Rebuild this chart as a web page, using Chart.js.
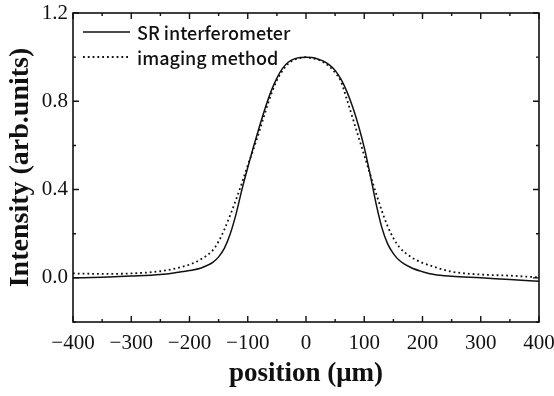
<!DOCTYPE html>
<html>
<head>
<title>Intensity profile</title>
<script src="https://cdn.jsdelivr.net/npm/chart.js"></script>
<style>
  html, body { margin: 0; padding: 0; background: #fff; }
</style>
</head>
<body>
<canvas id="profileChart" width="554" height="396"></canvas>

<script>
    // positions (um) shared by both curves
    const positions = [-400, -350, -300, -250, -220, -200, -180, -160, -150, -140, -130, -120, -110, -100,
        -90, -80, -70, -60, -50, -40, -30, -20, -10, 0, 10, 20, 30, 40, 50, 60, 70, 80, 90,
        100, 110, 120, 130, 140, 150, 160, 180, 200, 220, 250, 300, 350, 400];

    const srInterferometer = [0.0, 0.003, 0.008, 0.015, 0.025, 0.033, 0.045, 0.07, 0.095, 0.135, 0.20, 0.29, 0.40, 0.50,
        0.595, 0.685, 0.77, 0.845, 0.905, 0.95, 0.978, 0.992, 0.998, 1.0, 0.998, 0.992, 0.982, 0.965, 0.94, 0.90, 0.845, 0.775, 0.69,
        0.59, 0.47, 0.34, 0.23, 0.155, 0.11, 0.08, 0.047, 0.028, 0.015, 0.007, 0.0, -0.008, -0.015];

    const imagingMethod = [0.02, 0.018, 0.02, 0.03, 0.045, 0.06, 0.085, 0.125, 0.165, 0.22, 0.285, 0.355, 0.43, 0.51,
        0.585, 0.665, 0.75, 0.83, 0.895, 0.94, 0.972, 0.988, 0.996, 1.0, 0.995, 0.99, 0.977, 0.958, 0.93, 0.89, 0.81, 0.725, 0.64,
        0.555, 0.47, 0.385, 0.305, 0.235, 0.18, 0.14, 0.095, 0.068, 0.05, 0.028, 0.015, 0.01, 0.002];

    const xTicks = [-400, -300, -200, -100, 0, 100, 200, 300, 400];
    const xMinorTicks = [-350, -250, -150, -50, 50, 150, 250, 350];
    const yTicks = [0.0, 0.4, 0.8, 1.2];
    const yMinorTicks = [-0.2, 0.2, 0.6, 1.0];

    const ink = '#111';

    // frame, inward ticks on all four sides, legend in the upper left
    const framePlugin = {
        id: 'frame',
        afterDraw(chart) {
            const c = chart.ctx;
            const a = chart.chartArea;
            const xs = chart.scales.x, ys = chart.scales.y;
            c.save();
            c.strokeStyle = ink;
            c.lineWidth = 1.6;
            c.strokeRect(a.left, a.top, a.right - a.left, a.bottom - a.top);

            c.lineWidth = 1.4;
            c.beginPath();
            const xt = (v, len) => {
                const p = xs.getPixelForValue(v);
                c.moveTo(p, a.bottom); c.lineTo(p, a.bottom - len);
                c.moveTo(p, a.top); c.lineTo(p, a.top + len);
            };
            const yt = (v, len) => {
                const p = ys.getPixelForValue(v);
                c.moveTo(a.left, p); c.lineTo(a.left + len, p);
                c.moveTo(a.right, p); c.lineTo(a.right - len, p);
            };
            xTicks.forEach(v => xt(v, 6));
            xMinorTicks.forEach(v => xt(v, 3));
            yTicks.forEach(v => yt(v, 6));
            yMinorTicks.forEach(v => yt(v, 3));
            c.stroke();

            // legend
            chart.data.datasets.forEach((ds, i) => {
                const y = 32 + i * 25;
                c.beginPath();
                c.lineWidth = ds.borderWidth;
                c.setLineDash(ds.borderDash || []);
                c.moveTo(a.left + 10, y);
                c.lineTo(a.left + 57, y);
                c.stroke();
                c.setLineDash([]);
                c.fillStyle = ink;
                c.font = '500 18px "Noto Sans CJK JP", "Noto Sans", sans-serif';
                c.textBaseline = 'middle';
                c.fillText(ds.label, a.left + 64, y + 1);
            });
            c.restore();
        }
    };

    const serifTicks = { family: '"Liberation Serif", serif', size: 21 };

    new Chart(document.getElementById('profileChart'), {
        type: 'line',
        data: {
            datasets: [
                {
                    label: 'SR interferometer',
                    data: positions.map((x, i) => ({ x: x, y: srInterferometer[i] })),
                    borderColor: ink, borderWidth: 1.5, pointRadius: 0,
                    cubicInterpolationMode: 'monotone', fill: false
                },
                {
                    label: 'imaging method',
                    data: positions.map((x, i) => ({ x: x, y: imagingMethod[i] })),
                    borderColor: ink, borderWidth: 1.8, borderDash: [1.8, 3], pointRadius: 0,
                    cubicInterpolationMode: 'monotone', fill: false
                }
            ]
        },
        options: {
            responsive: false,
            animation: false,
            devicePixelRatio: 1,
            layout: { padding: { top: 13, right: 15, left: 0, bottom: 0 } },
            plugins: { legend: { display: false }, tooltip: { enabled: false } },
            scales: {
                x: {
                    type: 'linear', min: -400, max: 400,
                    afterBuildTicks: s => { s.ticks = xTicks.map(v => ({ value: v })); },
                    afterFit: s => { s.height = 74; s.paddingLeft = 0; s.paddingRight = 0; },
                    grid: { display: false, drawTicks: false },
                    border: { display: false },
                    ticks: {
                        color: ink, font: serifTicks, padding: 9, maxRotation: 0, autoSkip: false,
                        callback: v => v < 0 ? '\u2212' + Math.abs(v) : String(v)
                    },
                    title: {
                        display: true, text: 'position (\u03bcm)', color: ink,
                        font: { family: '"Liberation Serif", serif', size: 27, weight: 'bold' },
                        padding: { top: 0, bottom: 6 }
                    }
                },
                y: {
                    min: -0.2, max: 1.2,
                    afterBuildTicks: s => { s.ticks = yTicks.map(v => ({ value: v })); },
                    afterFit: s => { s.width = 73; s.paddingTop = 0; s.paddingBottom = 0; },
                    grid: { display: false, drawTicks: false },
                    border: { display: false },
                    ticks: {
                        color: ink, font: serifTicks, padding: 5,
                        callback: v => v.toFixed(1)
                    },
                    title: {
                        display: true, text: 'Intensity (arb.units)', color: ink,
                        font: { family: '"Liberation Serif", serif', size: 28, weight: 'bold' },
                        padding: { top: 4, bottom: 0 }
                    }
                }
            }
        },
        plugins: [framePlugin]
    });
</script>
</body>
</html>
